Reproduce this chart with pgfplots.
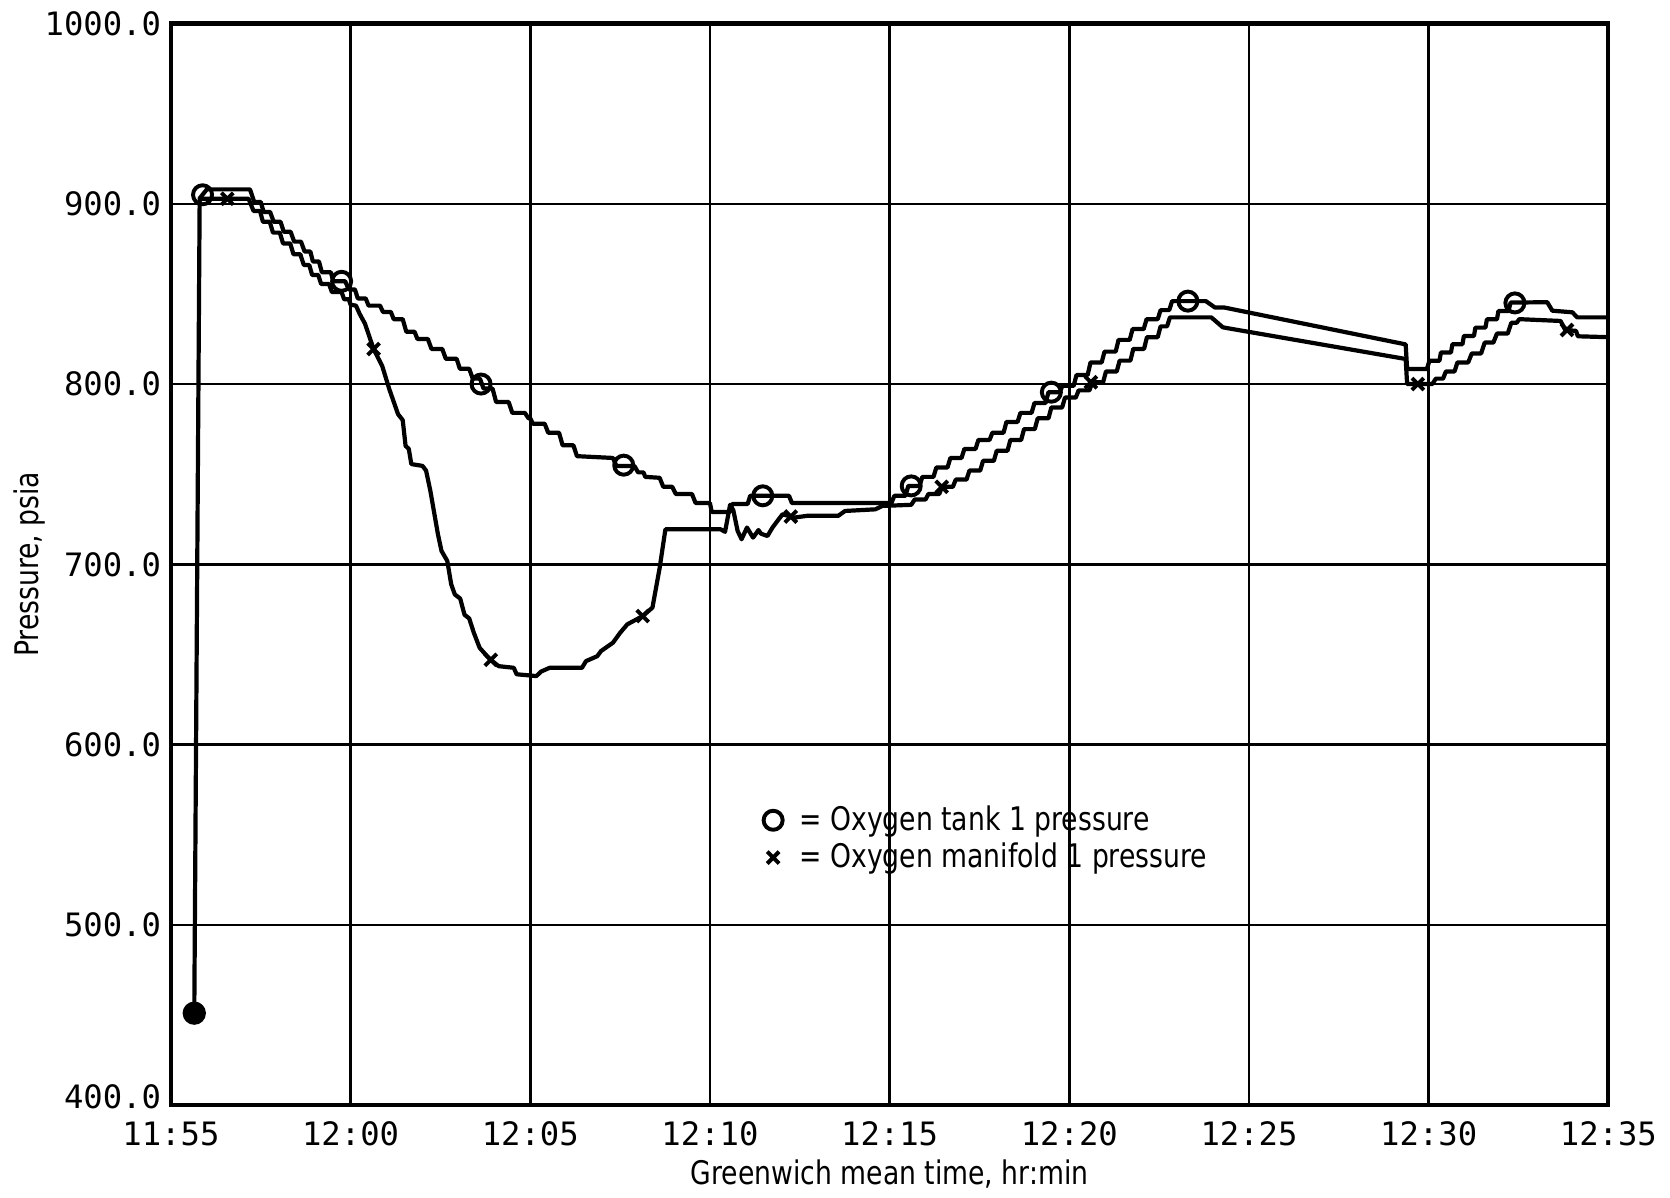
\documentclass[border=0pt]{standalone}
\usepackage{fontspec}
\usepackage{pgfplots}
\pgfplotsset{compat=1.18}
\newfontfamily\tickfont{DejaVu Sans Mono}
\newfontfamily\labfont{DejaVu Sans}[FakeStretch=0.82]

\begin{document}
\begin{tikzpicture}
\begin{axis}[
  scale only axis,
  width=513pt, height=386pt,
  xmin=0, xmax=40, ymin=400, ymax=1000,
  xtick={0,5,...,40},
  xticklabels={11:55,12:00,12:05,12:10,12:15,12:20,12:25,12:30,12:35},
  ytick={500,600,...,1000},
  yticklabels={500.0,600.0,700.0,800.0,900.0,1000.0},
  extra y ticks={400},
  extra y tick labels={400.0},
  extra y tick style={yticklabel style={yshift=3pt}},
  tick label style={font=\fontsize{11.5}{13}\tickfont},
  xticklabel style={yshift=-2.5pt},
  major tick length=0pt,
  grid=major,
  major grid style={black, line width=0.9pt},
  axis line style={black, line width=1.5pt},
  xlabel={Greenwich mean time, hr:min},
  ylabel={Pressure, psia},
  label style={font=\fontsize{11.6}{13}\labfont},
  xlabel style={yshift=2pt},
  ylabel style={yshift=-7pt},
  legend style={draw=none, fill=none, at={(axis cs:16.4,571)}, anchor=north west,
    font=\fontsize{11.6}{13}\labfont, row sep=-1pt, inner sep=1pt},
  legend cell align=left,
  legend image code/.code={\draw[mark repeat=2,mark phase=2] plot coordinates {(0cm,0cm)(0.17cm,0cm)(0.34cm,0cm)};},
  every axis plot/.append style={black, line width=1.5pt, line join=round},
]
% oxygen tank 1
\addplot[mark=none, forget plot] coordinates {
(0.65,451)(0.80,903)(1.00,908)(2.20,908)
(2.32,901)(2.50,901)(2.58,895.5)(2.76,895.5)(2.86,890)(3.05,890)
(3.14,884.5)(3.33,884.5)(3.43,879)(3.62,879)(3.72,873.5)(3.88,873.5)
(3.95,868)(4.12,868)(4.20,862)(4.45,862)(4.52,857)(4.85,857)
(4.95,852.5)(5.12,852.5)(5.20,847.5)(5.42,847.5)(5.50,843.5)(5.82,843.5)
(5.90,840)(6.12,840)(6.20,836)(6.45,836)(6.55,829)(6.78,829)
(6.86,825)(7.15,825)(7.25,819.5)(7.55,819.5)(7.65,814)(7.95,814)
(8.04,808.5)(8.30,808.5)(8.40,803)(8.60,803)(8.70,797.5)(8.95,797.5)
(9.05,790)(9.40,790)(9.50,784)(9.85,784)(9.95,781)(10.00,781)
(10.07,778)(10.40,778)(10.50,773)(10.80,773)(10.90,766)(11.20,766)
(11.30,760)(12.30,759)(12.40,754.5)(12.90,754.5)(13.00,751)(13.15,751)
(13.20,748.5)(13.60,748)(13.70,743)(13.95,743)(14.05,739)(14.50,739)
(14.60,734)(15.00,734)(15.05,729)(15.55,729)(15.62,733.5)(16.05,733.5)
(16.12,738)(17.20,738)(17.28,734)(20.05,734)
(20.13,738)(20.44,738)(20.52,743.5)(20.83,743.5)(20.91,748.5)(21.22,748.5)
(21.30,753.7)(21.61,753.7)(21.69,759)(22.00,759)(22.08,764)(22.39,764)
(22.47,769)(22.78,769)(22.86,773)(23.17,773)(23.25,779)(23.56,779)
(23.64,784)(23.95,784)(24.03,789.5)(24.34,789.5)(24.42,795.5)(24.73,795.5)
(24.81,799)(25.12,799)(25.20,805)(25.51,805)(25.59,812)(25.90,812)
(25.98,818)(26.29,818)(26.37,824.5)(26.68,824.5)(26.76,830.5)(27.07,830.5)
(27.15,836)(27.46,836)(27.54,841)(27.78,841)(27.86,846)(28.80,846)
(29.05,842.5)(29.30,842.5)(34.36,822)(34.40,808.3)(34.95,808.3)
(35.02,812.9)(35.30,812.9)(35.34,817.5)(35.62,817.5)(35.66,822.1)(35.94,822.1)
(35.98,826.7)(36.26,826.7)(36.30,831.3)(36.58,831.3)(36.62,835.9)(36.90,835.9)
(36.94,840.5)(37.22,840.5)(37.28,845.2)(38.30,845.4)
(38.44,840.7)(39.00,839.8)(39.13,837)(40,837)
};
% oxygen manifold 1
\addplot[mark=none, forget plot] coordinates {
(0.80,902.8)(2.16,902.8)
(2.30,896)(2.48,896)(2.56,890)(2.75,890)(2.84,884)(3.03,884)
(3.12,878)(3.32,878)(3.41,872)(3.60,872)(3.70,866)(3.85,866)
(3.93,860.5)(4.10,860.5)(4.18,855.5)(4.40,855.5)(4.48,851)(4.75,851)
(4.82,847)(4.95,847)(5.00,844)(5.15,843.5)
(5.25,839)(5.40,833.5)(5.64,819.4)(5.88,810)(6.08,797)(6.32,783.3)(6.45,780)
(6.53,765.7)(6.62,764)(6.69,755.6)(7.00,754.6)(7.10,752)(7.22,740.7)(7.43,716.7)
(7.53,707.4)(7.69,701.9)(7.80,688.9)(7.90,683.3)(8.05,681)(8.17,672)(8.30,670)
(8.43,662)(8.59,653.7)(8.80,649)(8.90,647)(9.12,643.5)(9.54,642.6)(9.62,639)
(10.17,638)(10.30,640.5)(10.54,642.6)(11.44,642.6)(11.55,646.3)(11.86,649)
(11.97,651.9)(12.30,656.5)(12.50,662)(12.70,666.7)(13.13,671.3)(13.40,676)
(13.60,698)(13.76,719.4)(15.30,719.4)(15.42,718)(15.56,733)(15.65,730)
(15.77,718.5)(15.88,713.9)(16.03,720.4)(16.20,714.8)(16.35,719)(16.42,717)
(16.60,715.7)(16.74,720.4)(17.02,727.8)(17.34,725.9)(17.70,726.9)(18.57,726.9)
(18.76,729.6)(19.60,730.5)(19.80,732.4)(20.60,733)
(20.70,736)(21.00,736)(21.08,739)(21.38,739)(21.46,743)(21.76,743)
(21.84,747)(22.14,747)(22.22,752)(22.52,752)(22.60,757.4)(22.90,757.4)
(22.98,763)(23.28,763)(23.36,769)(23.66,769)(23.74,775)(24.04,775)
(24.12,781)(24.42,781)(24.50,787)(24.80,787)(24.88,792.5)(25.18,792.5)
(25.26,796.5)(25.56,796.5)(25.64,801)(25.94,801)(26.02,807)(26.32,807)
(26.40,813)(26.70,813)(26.78,819.5)(27.08,819.5)(27.16,826)(27.46,826)
(27.54,832)(27.72,832)(27.80,837)(28.95,837)
(29.27,831.5)(29.40,831)(34.36,813.9)(34.40,800)(35.10,800)
(35.20,803)(35.40,803)(35.48,807)(35.72,807)(35.80,812)(36.10,812)
(36.20,817)(36.46,817)(36.56,823)(36.80,823)(36.90,828)(37.20,828)
(37.30,834)(37.45,834)(37.52,836)(38.67,835)
(38.80,830)(39.10,829.5)(39.15,826.5)(40,826)
};
% start point
\addplot[only marks, mark=*, mark size=3.4pt, forget plot] coordinates {(0.65,451)};
% markers
\addplot[only marks, mark=o, mark size=3.4pt, mark options={line width=1.4pt}] coordinates {
(0.88,905)(4.75,857)(8.63,800)(12.6,755)(16.47,738)(20.6,743.5)(24.5,795.5)(28.3,846)(37.4,845)};
\addlegendentry{\hspace{4pt}= Oxygen tank 1 pressure}
\addplot[only marks, mark=x, mark size=3pt, mark options={line width=1.4pt}] coordinates {
(1.57,902.8)(5.64,819.4)(8.9,647)(13.13,671.3)(17.25,726.5)(21.45,743)(25.6,801)(34.7,800)(38.85,830)};
\addlegendentry{\hspace{4pt}= Oxygen manifold 1 pressure}
\coordinate (ll) at (rel axis cs:0,0);
\coordinate (ur) at (rel axis cs:1,1);
\end{axis}
\path ([shift={(-61pt,-32pt)}]ll) rectangle ([shift={(22pt,8.4pt)}]ur);
\end{tikzpicture}
\end{document}
